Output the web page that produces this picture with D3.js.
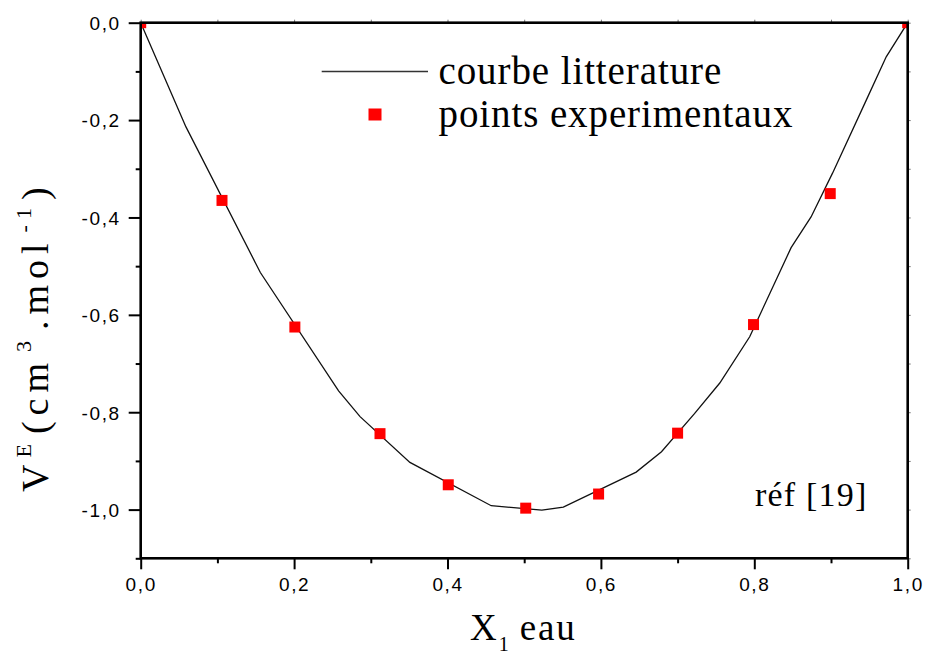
<!DOCTYPE html>
<html>
<head>
<meta charset="utf-8">
<script src="https://cdn.jsdelivr.net/npm/d3@7"></script>
<style>
  html, body { margin: 0; padding: 0; background: #fff; }
  svg { display: block; }
</style>
</head>
<body>
<svg id="chart" width="925" height="654"></svg>
<script>
// Literature curve for the excess molar volume (polyline vertices)
const curveX = [0, 0.059, 0.156, 0.258, 0.286, 0.351, 0.457, 0.523, 0.551, 0.646, 0.679, 0.722, 0.755, 0.794, 0.848, 0.874, 0.902, 0.946, 0.972, 1.0];
const curveY = [0, -0.214, -0.513, -0.756, -0.809, -0.903, -0.992, -1.001, -0.995, -0.923, -0.881, -0.803, -0.740, -0.645, -0.462, -0.399, -0.309, -0.159, -0.070, 0];

// Experimental points
const pointsX = [0, 0.106, 0.201, 0.312, 0.401, 0.502, 0.597, 0.700, 0.799, 0.899, 1.0];
const pointsY = [0, -0.365, -0.625, -0.844, -0.949, -0.997, -0.968, -0.843, -0.620, -0.351, 0];

// Axis ticks and labels
const xTicks = [0, 0.2, 0.4, 0.6, 0.8, 1.0];
const xTickLabels = ["0,0", "0,2", "0,4", "0,6", "0,8", "1,0"];
const xMinor = [0.1, 0.3, 0.5, 0.7, 0.9];
const yTicks = [0, -0.2, -0.4, -0.6, -0.8, -1.0];
const yTickLabels = ["0,0", "-0,2", "-0,4", "-0,6", "-0,8", "-1,0"];
const yMinor = [-0.1, -0.3, -0.5, -0.7, -0.9, -1.1];

const legendLabels = ["courbe litterature", "points experimentaux"];
const noteText = "réf [19]";

const svg = d3.select("#chart");
const pL = 140.7, pR = 907.7, pT = 22.7, pB = 558.3;

const x = d3.scaleLinear().domain([0, 1]).range([pL, pR]);
const y = d3.scaleLinear().domain([-1.1, 0]).range([pB, pT]);

svg.append("defs").append("clipPath").attr("id", "plot")
  .append("rect").attr("x", pL).attr("y", pT)
  .attr("width", pR - pL).attr("height", pB - pT);

const plot = svg.append("g").attr("clip-path", "url(#plot)");

// literature curve
const curveData = curveX.map((v, i) => [v, curveY[i]]);
plot.append("path")
  .datum(curveData)
  .attr("fill", "none")
  .attr("stroke", "#111")
  .attr("stroke-width", 1.3)
  .attr("d", d3.line().x(d => x(d[0])).y(d => y(d[1])));

// experimental squares
const ms = 11;
plot.selectAll("rect.pt")
  .data(pointsX.map((v, i) => [v, pointsY[i]]))
  .join("rect")
  .attr("class", "pt")
  .attr("x", d => x(d[0]) - ms / 2)
  .attr("y", d => y(d[1]) - ms / 2)
  .attr("width", ms)
  .attr("height", ms)
  .attr("fill", "#ff0000");

// axes
const tickFont = "'Liberation Sans', Arial, sans-serif";

function styleAxis(g, w) {
  g.select(".domain").remove();
  g.selectAll(".tick line").attr("stroke", "#000").attr("stroke-width", w);
}

// bottom axis
const gx = svg.append("g").attr("transform", `translate(0,${pB})`);
gx.call(d3.axisBottom(x).tickValues(xTicks).tickSize(11)
  .tickFormat((d, i) => xTickLabels[i]));
styleAxis(gx, 2);
gx.selectAll(".tick text")
  .attr("y", 32.4).attr("dy", 0)
  .attr("font-family", tickFont).attr("font-size", 19)
  .attr("letter-spacing", 1.6).attr("fill", "#000");
const gxm = svg.append("g").attr("transform", `translate(0,${pB})`);
gxm.call(d3.axisBottom(x).tickValues(xMinor).tickSize(5).tickFormat(""));
styleAxis(gxm, 2);

// left axis
const gy = svg.append("g").attr("transform", `translate(${pL},0)`);
gy.call(d3.axisLeft(y).tickValues(yTicks).tickSize(12)
  .tickFormat((d, i) => yTickLabels[i]));
styleAxis(gy, 2);
gy.selectAll(".tick text")
  .attr("x", -20).attr("dy", "0.36em")
  .attr("font-family", tickFont).attr("font-size", 19)
  .attr("letter-spacing", 1.6).attr("fill", "#000");
const gym = svg.append("g").attr("transform", `translate(${pL},0)`);
gym.call(d3.axisLeft(y).tickValues(yMinor).tickSize(5).tickFormat(""));
styleAxis(gym, 2);

// top and right axes: small outward ticks, no labels
const allX = xTicks.concat(xMinor);
const allY = yTicks.concat(yMinor);
const gt = svg.append("g").attr("transform", `translate(0,${pT})`);
gt.call(d3.axisTop(x).tickValues(allX).tickSize(3).tickFormat(""));
styleAxis(gt, 1);
gt.selectAll(".tick line").attr("stroke", "#777");
const gr = svg.append("g").attr("transform", `translate(${pR},0)`);
gr.call(d3.axisRight(y).tickValues(allY).tickSize(3).tickFormat(""));
styleAxis(gr, 1);
gr.selectAll(".tick line").attr("stroke", "#777");

// frame
svg.append("rect")
  .attr("x", pL).attr("y", pT)
  .attr("width", pR - pL).attr("height", pB - pT)
  .attr("fill", "none").attr("stroke", "#000").attr("stroke-width", 2.6);

const serif = "'Liberation Serif', 'Times New Roman', serif";

// legend
const lg = svg.append("g").attr("font-family", serif).attr("font-size", 39)
  .attr("letter-spacing", 0.9).attr("fill", "#000");
lg.append("line").attr("x1", 321.7).attr("x2", 428).attr("y1", 71.5).attr("y2", 71.5)
  .attr("stroke", "#333").attr("stroke-width", 1.4);
lg.append("text").attr("x", 438.5).attr("y", 83.5).text(legendLabels[0]);
lg.append("rect").attr("x", 368.5).attr("y", 108.5).attr("width", 13).attr("height", 12)
  .attr("fill", "#ff0000");
lg.append("text").attr("x", 438.5).attr("y", 127).text(legendLabels[1]);

// annotation
svg.append("text").attr("x", 755).attr("y", 506)
  .attr("font-family", serif).attr("font-size", 34).attr("letter-spacing", 1.2)
  .text(noteText);

// x axis title
const xt = svg.append("text").attr("x", 470).attr("y", 640)
  .attr("font-family", serif).attr("font-size", 37);
xt.append("tspan").text("X");
xt.append("tspan").attr("font-size", 20).attr("dy", 11).attr("dx", 2).text("1");
xt.append("tspan").attr("dy", -11).attr("dx", 11).attr("letter-spacing", 1.8).text("eau");

// y axis title
const yt = svg.append("text")
  .attr("transform", "translate(48,492) rotate(-90)")
  .attr("font-family", serif).attr("font-size", 38).attr("letter-spacing", 6);
yt.append("tspan").text("V");
yt.append("tspan").attr("font-size", 22).attr("dy", -17).attr("dx", 1).text("E");
yt.append("tspan").attr("dy", 17).attr("dx", 4).text("(cm");
yt.append("tspan").attr("font-size", 22).attr("dy", -17).attr("dx", 5).text("3");
yt.append("tspan").attr("dy", 17).attr("dx", 5).text(".mol");
yt.append("tspan").attr("font-size", 22).attr("dy", -17).attr("dx", 5).text("-1");
yt.append("tspan").attr("dy", 17).attr("dx", 2).text(")");
</script>
</body>
</html>
